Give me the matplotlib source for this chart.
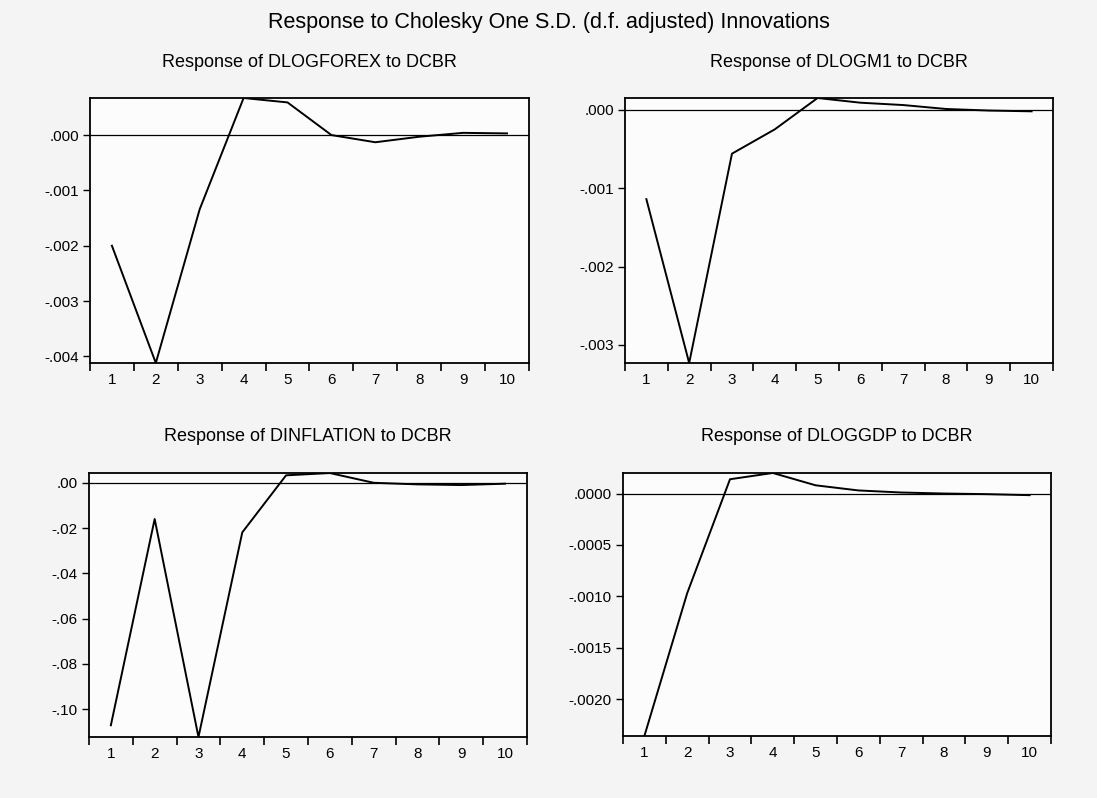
import numpy as np
import matplotlib.pyplot as plt
from matplotlib.ticker import FixedLocator, NullFormatter

plt.rcParams["font.family"] = ["Liberation Sans", "DejaVu Sans"]

# Impulse response values (periods 1..10)
periods = [1, 2, 3, 4, 5, 6, 7, 8, 9, 10]
resp_forex = [-0.00200, -0.00412, -0.00134, 0.00067, 0.00059, 0.00000, -0.00013, -0.00003, 0.00004, 0.00003]
resp_m1 = [-0.00114, -0.00323, -0.00056, -0.00025, 0.00015, 0.00009, 0.00006, 0.00001, -0.00001, -0.00002]
resp_infl = [-0.1071, -0.0160, -0.1123, -0.0219, 0.0033, 0.0043, 0.0000, -0.0007, -0.0010, -0.0004]
resp_gdp = [-0.00236, -0.00097, 0.000139, 0.00020, 0.00008, 0.00003, 0.00001, 0.0, -0.000006, -0.000016]

titles = ["Response of DLOGFOREX to DCBR", "Response of DLOGM1 to DCBR",
          "Response of DINFLATION to DCBR", "Response of DLOGGDP to DCBR"]
yticks = [[0.0, -0.001, -0.002, -0.003, -0.004],
          [0.0, -0.001, -0.002, -0.003],
          [0.0, -0.02, -0.04, -0.06, -0.08, -0.10],
          [0.0, -0.0005, -0.0010, -0.0015, -0.0020]]
ylabels = [[".000", "-.001", "-.002", "-.003", "-.004"],
           [".000", "-.001", "-.002", "-.003"],
           [".00", "-.02", "-.04", "-.06", "-.08", "-.10"],
           [".0000", "-.0005", "-.0010", "-.0015", "-.0020"]]
series = [resp_forex, resp_m1, resp_infl, resp_gdp]
positions = [[0.0820, 0.5451, 0.4002, 0.3321],
             [0.5697, 0.5451, 0.3902, 0.3321],
             [0.0811, 0.0764, 0.3993, 0.3308],
             [0.5679, 0.0777, 0.3902, 0.3296]]
title_y = [0.9223, 0.9223, 0.4524, 0.4524]

fig = plt.figure(figsize=(10.97, 7.98), dpi=100, facecolor="#f4f4f4")
fig.text(0.5, 0.972, "Response to Cholesky One S.D. (d.f. adjusted) Innovations",
         ha="center", va="center", fontsize=15.5)

for vals, title, yt, yl, pos, ty in zip(series, titles, yticks, ylabels, positions, title_y):
    ax = fig.add_axes(pos)
    ax.set_facecolor("#fcfcfc")
    ax.plot(periods, vals, color="black", lw=1.4)
    ax.axhline(0, color="black", lw=0.9)
    ax.set_xlim(0.5, 10.5)
    ax.set_ylim(min(vals), max(vals))
    fig.text(pos[0] + pos[2] / 2, ty, title, ha="center", va="center", fontsize=13)

    # x: tick marks between periods, labels at periods
    ax.xaxis.set_major_locator(FixedLocator(periods))
    ax.set_xticklabels([str(p) for p in periods])
    ax.xaxis.set_minor_locator(FixedLocator(np.arange(0.5, 11, 1)))
    ax.xaxis.set_minor_formatter(NullFormatter())
    ax.tick_params(axis="x", which="major", length=0, pad=7, labelsize=11)
    ax.tick_params(axis="x", which="minor", length=6, width=1.2, direction="out")

    ax.set_yticks(yt)
    ax.set_yticklabels(yl)
    ax.tick_params(axis="y", length=5, width=1, direction="out", labelsize=11, pad=3)

    for s in ax.spines.values():
        s.set_linewidth(1.3)

plt.savefig("out.png", dpi=100, facecolor=fig.get_facecolor())
